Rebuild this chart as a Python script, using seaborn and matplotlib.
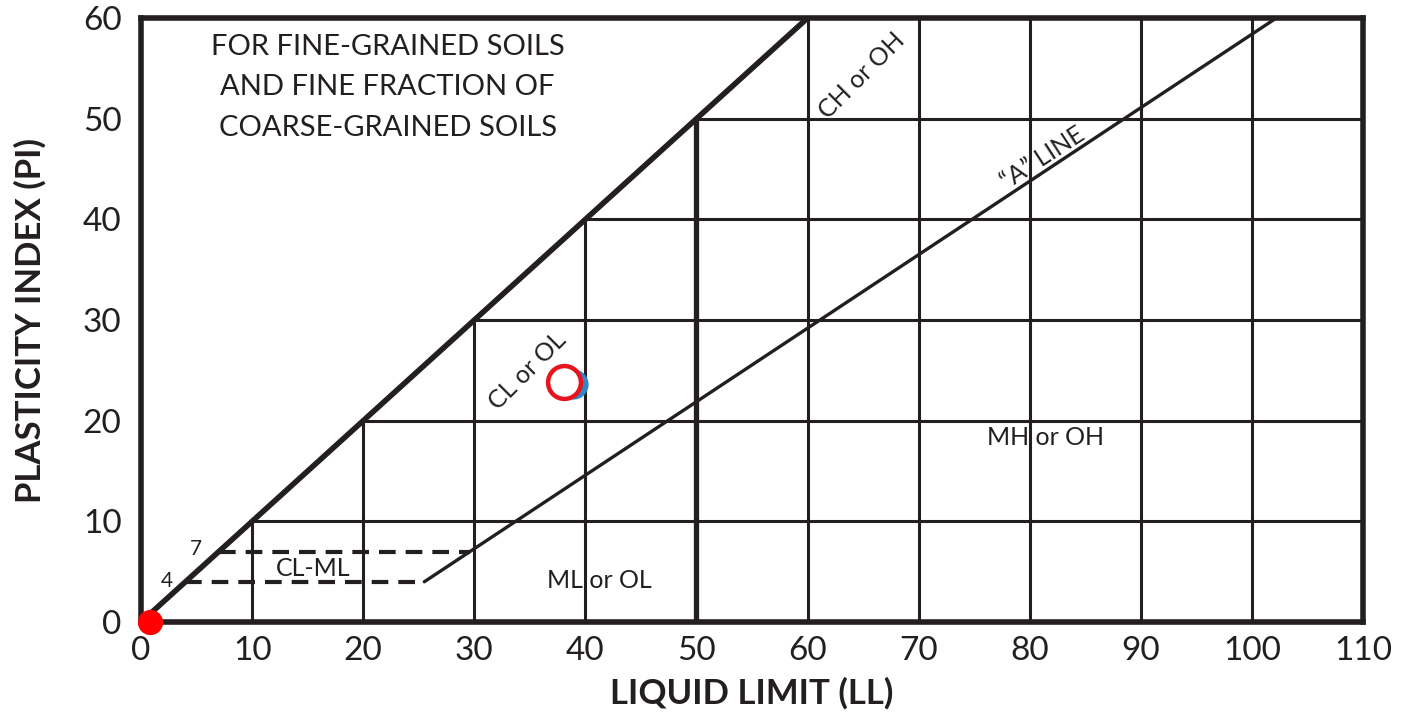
import matplotlib
matplotlib.use("Agg")
import matplotlib.pyplot as plt
import seaborn as sns
import pandas as pd

# ---- data ----
ll_ticks = [0, 10, 20, 30, 40, 50, 60, 70, 80, 90, 100, 110]
pi_ticks = [0, 10, 20, 30, 40, 50, 60]
u_line_ll = [0, 60]
u_line_pi = [0, 60]
a_line_ll = [25.5, 102.2]
a_line_pi = [4, 60]
clml_pi = [4, 7]
clml_ll_end = [25.5, 29.6]
sample_ll = [38.9, 38.1, 0.8]
sample_pi = [23.6, 23.8, 0.0]
sample_kind = ["blue", "red ring", "red dot"]

DARK = "#231f20"

sns.set_theme(style="white")
plt.rcParams['font.family'] = ['Lato', 'DejaVu Sans']

fig = plt.figure(figsize=(14.05, 7.27), dpi=100)
ax = fig.add_axes([0.1004, 0.1444, 0.8697, 0.8308])
ax.set_xlim(0, 110)
ax.set_ylim(0, 60)

# grid clipped above the U line
for x in ll_ticks[1:-1]:
    top = min(x, 60)
    lw = 3.8 if x == 50 else 2.2
    ax.plot([x, x], [0, top], color=DARK, lw=lw, solid_capstyle="butt", zorder=1)
for y in pi_ticks[1:-1]:
    ax.plot([y, 110], [y, y], color=DARK, lw=2.2, solid_capstyle="butt", zorder=1)

# U line and A line
sns.lineplot(x=u_line_ll, y=u_line_pi, color=DARK, lw=4.0, ax=ax, zorder=2)
sns.lineplot(x=a_line_ll, y=a_line_pi, color=DARK, lw=2.4, ax=ax, zorder=2)

# CL-ML dashed band
for p, xe in zip(clml_pi, clml_ll_end):
    ax.plot([p, xe], [p, p], color=DARK, lw=3, dashes=(4, 2.4), zorder=2)

# samples
df = pd.DataFrame({"LL": sample_ll, "PI": sample_pi, "kind": sample_kind})
b = df[df.kind == "blue"]
sns.scatterplot(data=b, x="LL", y="PI", s=430, color="#2f86c8", edgecolor="#2f86c8",
                linewidth=1, ax=ax, zorder=4, legend=False)
r = df[df.kind == "red ring"]
sns.scatterplot(data=r, x="LL", y="PI", s=560, facecolor="white", edgecolor="#e8141c",
                linewidth=3.2, ax=ax, zorder=5, legend=False)
d = df[df.kind == "red dot"]
sns.scatterplot(data=d, x="LL", y="PI", s=330, color="#ff0000", edgecolor="#ff0000",
                linewidth=0, ax=ax, zorder=6, legend=False, clip_on=False)

# texts
ax.text(22.2, 53.1, "FOR FINE-GRAINED SOILS\nAND FINE FRACTION OF\nCOARSE-GRAINED SOILS",
        ha="center", va="center", fontsize=21, color=DARK, linespacing=1.68)
ax.text(64.9, 54.3, "CH or OH", rotation=45, ha="center", va="center", fontsize=18, color=DARK)
ax.text(81.2, 46.1, "\u201cA\u201d LINE", rotation=33, ha="center", va="center", fontsize=18, color=DARK)
ax.text(34.8, 24.9, "CL or OL", rotation=45, ha="center", va="center", fontsize=18, color=DARK)
ax.text(81.4, 18.3, "MH or OH", ha="center", va="center", fontsize=18, color=DARK)
ax.text(41.3, 4.1, "ML or OL", ha="center", va="center", fontsize=18, color=DARK)
ax.text(15.5, 5.3, "CL-ML", ha="center", va="center", fontsize=18, color=DARK)
ax.text(4.9, 7.3, "7", ha="center", va="center", fontsize=15, color=DARK)
ax.text(2.3, 4.1, "4", ha="center", va="center", fontsize=15, color=DARK)

# axes styling
ax.set_xticks(ll_ticks)
ax.set_yticks(pi_ticks)
ax.set_xticklabels([str(v) for v in ll_ticks])
ax.set_yticklabels([str(v) for v in pi_ticks])
ax.tick_params(axis="both", length=0, labelsize=24, colors=DARK)
ax.tick_params(axis="x", pad=10)
ax.tick_params(axis="y", pad=14)
for s in ax.spines.values():
    s.set_visible(True)
    s.set_color(DARK)
    s.set_linewidth(4)
ax.set_xlabel("LIQUID LIMIT (LL)", fontsize=25, fontweight="bold", color=DARK, labelpad=8)
ax.set_ylabel("PLASTICITY INDEX (PI)", fontsize=25, fontweight="bold", color=DARK, labelpad=26)
ax.grid(False)

fig.savefig("out.png", dpi=100)
